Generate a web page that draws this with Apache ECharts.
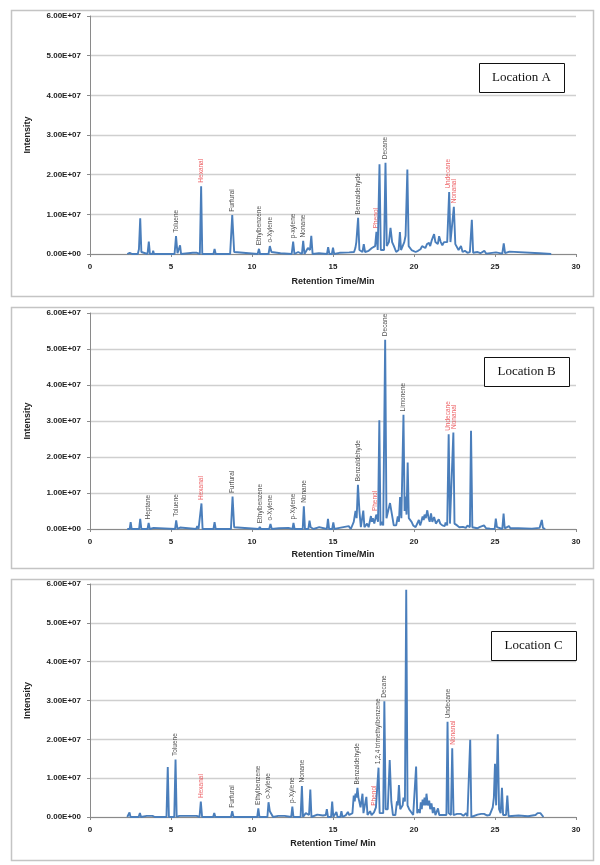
<!DOCTYPE html>
<html>
<head>
<meta charset="utf-8">
<script src="https://cdn.jsdelivr.net/npm/echarts@6/dist/echarts.min.js"></script>
<style>
html,body{margin:0;padding:0;background:#fff;}
#chart{width:600px;height:865px;}
</style>
</head>
<body>
<div id="chart"></div>
<script>
// Intensity values are in units of 1e7 counts; times in minutes.
const SCALE = 1e7;

const pointsA = [
[2.3,0],[2.45,0.03],[2.6,0],[2.95,0],[3.02,0.12],[3.1,0.9],[3.17,0.05],[3.55,0],[3.63,0.31],[3.7,0],
[3.85,0],[3.9,0.08],[3.95,0],[4.15,0],[4.2,0.05],[4.25,0],[5.22,0],[5.31,0.45],[5.4,0.02],[5.5,0],
[5.56,0.22],[5.62,0],[6.35,0.03],[6.6,0.03],[6.78,0],[6.86,1.71],[6.93,0],[7.62,0],[7.69,0.13],[7.76,0],
[8.65,0],[8.78,0.98],[8.9,0.05],[9.0,0],[10.35,0],[10.43,0.13],[10.5,0],[11.02,0],[11.1,0.2],[11.2,0.05],
[11.3,0],[11.76,0.02],[12.45,0],[12.54,0.31],[12.62,0],[12.85,0.05],[13.08,0],[13.16,0.33],[13.24,0],[13.45,0.15],
[13.58,0.1],[13.66,0.46],[13.74,0],[14.13,0.02],[14.63,0],[14.7,0.17],[14.78,0],[14.93,0],[15.0,0.16],[15.07,0],
[15.4,0.03],[16.0,0.04],[16.3,0.05],[16.38,0.15],[16.44,0.3],[16.55,0.91],[16.63,0.1],[16.82,0.05],[16.9,0.25],[16.98,0.05],
[17.2,0.08],[17.3,0.05],[17.4,0.15],[17.52,0.15],[17.6,0.2],[17.68,0.56],[17.76,0.1],[17.87,2.26],[17.95,0.1],[18.05,0.12],
[18.15,0.1],[18.24,2.3],[18.32,0.2],[18.45,0.3],[18.55,0.66],[18.65,0.3],[18.76,0.2],[18.9,0.05],[19.05,0.1],[19.13,0.55],
[19.2,0.1],[19.3,0.15],[19.4,0.3],[19.48,0.46],[19.59,2.13],[19.67,0.2],[19.75,0.2],[19.85,0.1],[19.95,0.08],[20.1,0.05],
[20.25,0.08],[20.4,0.12],[20.5,0.2],[20.6,0.22],[20.7,0.15],[20.8,0.25],[20.93,0.28],[21.0,0.2],[21.1,0.35],[21.18,0.3],
[21.24,0.5],[21.32,0.3],[21.4,0.35],[21.47,0.25],[21.55,0.45],[21.65,0.3],[21.75,0.22],[21.85,0.3],[21.95,0.25],[22.05,0.3],
[22.17,1.56],[22.25,0.3],[22.33,0.28],[22.46,1.19],[22.55,0.25],[22.65,0.2],[22.75,0.1],[22.9,0.2],[23.0,0.05],[23.14,0.08],
[23.3,0.03],[23.45,0.05],[23.57,0.86],[23.65,0.03],[23.93,0.05],[24.1,0.02],[24.34,0.08],[24.45,0.01],[25.06,0.04],[25.45,0.01],
[25.54,0.27],[25.62,0.02],[25.89,0.06],[26.0,0.01],[27.75,0.02],[27.85,0.02],[28.47,0]
];

const pointsB = [
[2.3,0],[2.45,0],[2.51,0.19],[2.57,0],[3.03,0],[3.1,0.28],[3.17,0],[3.55,0],[3.62,0.17],[3.69,0],
[3.93,0.03],[4.0,0],[5.25,0],[5.32,0.24],[5.4,0],[5.56,0.04],[6.55,0],[6.62,0.08],[6.7,0],[6.81,0],
[6.88,0.71],[6.95,0],[7.62,0],[7.69,0.19],[7.76,0],[8.7,0],[8.8,0.9],[8.9,0.05],[9.0,0],[10.42,0],
[10.48,0.06],[10.55,0],[11.06,0],[11.14,0.14],[11.22,0],[11.66,0.02],[12.25,0.03],[12.5,0],[12.56,0.17],[12.63,0],
[13.13,0],[13.2,0.63],[13.27,0],[13.48,0],[13.55,0.23],[13.62,0.05],[13.74,0.1],[13.8,0],[14.15,0.05],[14.62,0],
[14.69,0.28],[14.76,0],[14.95,0],[15.02,0.18],[15.09,0],[15.4,0.03],[15.97,0.08],[16.1,0],[16.28,0.2],[16.39,0.5],
[16.46,0.3],[16.54,1.23],[16.63,0.5],[16.72,0.05],[16.8,0.1],[16.87,0.51],[16.94,0.05],[17.1,0.15],[17.2,0.05],[17.34,0.36],
[17.4,0.2],[17.46,0.3],[17.55,0.15],[17.67,0.4],[17.78,0.2],[17.86,3.02],[17.93,0.1],[18.0,0.2],[18.1,0.1],[18.22,5.26],
[18.3,0.3],[18.42,0.3],[18.52,0.72],[18.64,0.4],[18.75,0.1],[18.9,0.1],[19.0,0.35],[19.07,0.2],[19.14,0.89],[19.22,0.3],
[19.35,3.17],[19.42,0.5],[19.47,0.9],[19.54,0.4],[19.61,1.85],[19.68,0.3],[19.75,0.25],[19.85,0.2],[19.95,0.1],[20.1,0.05],
[20.2,0.1],[20.3,0.25],[20.38,0.1],[20.45,0.2],[20.53,0.35],[20.6,0.25],[20.65,0.4],[20.73,0.3],[20.82,0.52],[20.9,0.3],
[20.97,0.2],[21.05,0.43],[21.13,0.2],[21.24,0.33],[21.35,0.15],[21.45,0.1],[21.53,0.27],[21.62,0.15],[21.75,0.1],[21.84,0.15],
[21.9,0.08],[21.95,0.18],[22.05,0.1],[22.14,2.63],[22.22,0.15],[22.3,0.1],[22.43,2.68],[22.5,0.15],[22.66,0.1],[22.8,0.05],
[23.02,0.06],[23.2,0.03],[23.3,0.1],[23.45,0.05],[23.52,2.73],[23.6,0.05],[23.9,0.02],[24.08,0.06],[24.2,0.05],[24.32,0.1],
[24.45,0.02],[24.7,0.01],[24.98,0],[25.05,0.29],[25.12,0.05],[25.22,0.05],[25.45,0],[25.53,0.43],[25.6,0.02],[25.86,0.08],
[25.95,0.02],[26.45,0.02],[27.28,0.01],[27.75,0.03],[27.82,0.05],[27.89,0.25],[27.96,0.03],[28.1,0]
];

const pointsC = [
[2.3,0],[2.38,0],[2.44,0.12],[2.5,0],[3.0,0],[3.08,0.1],[3.15,0],[3.5,0.03],[3.86,0.03],[4.0,0],
[4.72,0],[4.8,1.29],[4.87,0],[5.2,0],[5.28,1.48],[5.35,0],[5.51,0.03],[6.58,0.03],[6.76,0],[6.84,0.4],
[6.92,0],[7.6,0],[7.67,0.1],[7.74,0],[8.7,0],[8.78,0.15],[8.86,0],[10.32,0],[10.39,0.22],[10.46,0],
[10.95,0],[11.02,0.38],[11.1,0.15],[11.2,0.1],[11.3,0],[11.62,0.03],[12.02,0.03],[12.42,0],[12.49,0.27],[12.56,0],
[13.0,0],[13.08,0.8],[13.15,0],[13.32,0.1],[13.52,0.05],[13.6,0.71],[13.67,0],[14.03,0.06],[14.38,0.04],[14.55,0.05],
[14.62,0.2],[14.69,0],[14.88,0],[14.95,0.4],[15.02,0],[15.14,0],[15.21,0.13],[15.28,0],[15.45,0],[15.52,0.15],
[15.59,0],[15.8,0.05],[15.92,0.13],[16.0,0.05],[16.2,0.1],[16.28,0.55],[16.34,0.4],[16.39,0.6],[16.45,0.5],[16.51,0.75],
[16.57,0.5],[16.63,0.5],[16.7,0.25],[16.76,0.3],[16.82,0.6],[16.88,0.1],[16.98,0.1],[17.06,0.52],[17.13,0.05],[17.29,0.15],
[17.38,0.05],[17.53,0.12],[17.6,0.1],[17.65,0.25],[17.73,0.2],[17.81,1.27],[17.88,0.1],[18.0,0.05],[18.1,0.1],[18.17,2.98],
[18.25,0.2],[18.38,0.2],[18.5,1.47],[18.6,0.4],[18.7,0.05],[18.85,0.05],[18.95,0.4],[19.0,0.3],[19.07,0.82],[19.15,0.2],
[19.23,0.25],[19.3,0.3],[19.35,0.5],[19.44,0.4],[19.52,5.85],[19.6,0.3],[19.7,0.2],[19.8,0.15],[19.95,0.05],[20.06,0.05],
[20.13,1.3],[20.2,0.1],[20.3,0.2],[20.36,0.1],[20.42,0.38],[20.48,0.2],[20.53,0.45],[20.6,0.3],[20.65,0.5],[20.72,0.3],
[20.77,0.6],[20.85,0.3],[20.94,0.42],[21.0,0.2],[21.08,0.35],[21.16,0.1],[21.24,0.25],[21.32,0.05],[21.48,0.22],[21.56,0.05],
[21.8,0.05],[22.0,0.05],[22.07,2.45],[22.14,0.1],[22.28,0.05],[22.36,1.77],[22.44,0.05],[22.66,0.08],[22.9,0.08],[23.05,0.03],
[23.21,0.1],[23.3,0.02],[23.4,0],[23.47,1.99],[23.54,0],[23.92,0.06],[24.15,0.08],[24.32,0.08],[24.5,0.04],[24.67,0.05],
[24.86,0.25],[24.93,0.5],[25.0,1.37],[25.07,0.3],[25.17,2.13],[25.25,0.2],[25.35,0.1],[25.43,0.75],[25.5,0.05],[25.68,0.05],
[25.76,0.55],[25.84,0.02],[26.45,0.04],[27.04,0.02],[27.5,0.05],[27.63,0.1],[27.72,0.05],[27.8,0.1],[27.9,0.05],[27.99,0]
];

// Peak labels: compound names, retention times and the peak intensity they mark (1e7 units)
const namesA = ['Toluene','Hexanal','Furfural','Ethylbenzene','o-Xylene','p-xylene','Nonane','Benzaldehyde','Phenol','Decane','Undecane','Nonanal'];
const timesA = [5.31,6.86,8.78,10.43,11.1,12.54,13.16,16.55,17.64,18.24,22.14,22.48];
const peaksA = [0.45,1.71,0.98,0.13,0.2,0.31,0.33,0.91,0.56,2.3,1.56,1.19];

const namesB = ['Heptane','Toluene','Hexanal','Furfural','Ethylbenzene','o-Xylene','p-Xylene','Nonane','Benzaldehyde','Phenol','Decane','Limonene','Undecane','Nonanal'];
const timesB = [3.62,5.32,6.88,8.8,10.48,11.14,12.56,13.2,16.54,17.62,18.22,19.35,22.14,22.46];
const peaksB = [0.17,0.24,0.71,0.9,0.06,0.14,0.17,0.63,1.23,0.4,5.26,3.17,2.63,2.68];

const namesC = ['Toluene','Hexanal','Furfural','Ethylbenzene','o-Xylene','p-Xylene','Nonane','Benzaldehyde','Phenol','1,2,4 trimethylbenzene','Decane','Undecane','Nonanal'];
const timesC = [5.28,6.84,8.78,10.39,11.02,12.49,13.08,16.51,17.55,17.81,18.17,22.12,22.45];
const peaksC = [1.48,0.4,0.15,0.22,0.38,0.27,0.8,0.75,0.2,1.27,2.98,2.45,1.77];

// Compounds printed in red in each panel
const redA = ['Hexanal','Phenol','Undecane','Nonanal'];
const redB = ['Hexanal','Phenol','Undecane','Nonanal'];
const redC = ['Hexanal','Phenol','Nonanal'];

const panelTitles = ['Location A','Location B','Location C'];
const xTitles = ['Retention Time/Min','Retention Time/Min','Retention Time/ Min'];
const yTitle = 'Intensity';
const xTicks = {min:0, max:30, interval:5};
const yTicks = {min:0, max:6e7, interval:1e7};

const FONT = '"Liberation Sans", Arial, sans-serif';
const LINE = '#4a7ebb';
const RED = '#e8383d';
const DARK = '#222222';

function sci(v){
  if (v === 0) return '0.00E+00';
  const e = Math.floor(Math.log10(v) + 1e-9);
  const m = v / Math.pow(10, e);
  return m.toFixed(2) + 'E+' + String(e).padStart(2, '0');
}

const grids = [
  {left:90, width:486, top:16, height:238},
  {left:90, width:486, top:313, height:216},
  {left:90, width:486, top:584, height:233}
];
const nameGaps = [23.5, 21.5, 22.5];

const chart = echarts.init(document.getElementById('chart'), null, {renderer:'canvas'});

const xAxes = grids.map((g, i) => ({
  type:'value', gridIndex:i, min:xTicks.min, max:xTicks.max, interval:xTicks.interval,
  name:xTitles[i], nameLocation:'middle', nameGap:nameGaps[i],
  nameTextStyle:{fontFamily:FONT, fontSize:9, fontWeight:'bold', color:DARK},
  axisLine:{show:true, onZero:false, lineStyle:{color:'#8a8a8a', width:1}},
  axisTick:{show:true, length:3, lineStyle:{color:'#8a8a8a'}},
  axisLabel:{fontFamily:FONT, fontSize:8, fontWeight:'bold', color:DARK, margin:9},
  splitLine:{show:false}
}));
const yAxes = grids.map((g, i) => ({
  type:'value', gridIndex:i, min:yTicks.min, max:yTicks.max, interval:yTicks.interval,
  name:yTitle, nameLocation:'middle', nameGap:58,
  nameTextStyle:{fontFamily:FONT, fontSize:9, fontWeight:'bold', color:DARK},
  axisLine:{show:true, lineStyle:{color:'#8a8a8a', width:1}},
  axisTick:{show:true, length:3, lineStyle:{color:'#8a8a8a'}},
  axisLabel:{fontFamily:FONT, fontSize:8, fontWeight:'bold', color:DARK, margin:9, formatter:sci},
  splitLine:{show:true, lineStyle:{color:'#cfcfcf', width:1.3}}
}));

const traces = [pointsA, pointsB, pointsC];
const labelSets = [
  [namesA, timesA, peaksA, redA],
  [namesB, timesB, peaksB, redB],
  [namesC, timesC, peaksC, redC]
];

const series = [];
traces.forEach((pts, i) => {
  series.push({
    type:'line', xAxisIndex:i, yAxisIndex:i, showSymbol:false, symbol:'none',
    lineStyle:{color:LINE, width:1.9}, animation:false, silent:true,
    data: pts.map(p => [p[0], p[1] * SCALE])
  });
});
labelSets.forEach((set, i) => {
  const [names, times, peaks, reds] = set;
  series.push({
    type:'scatter', xAxisIndex:i, yAxisIndex:i, symbolSize:1, animation:false, silent:true,
    itemStyle:{color:'rgba(0,0,0,0)'},
    label:{show:true, position:'top', distance:3, rotate:90, align:'left', verticalAlign:'middle',
      fontFamily:FONT, fontSize:6.5, formatter:p => p.name},
    data: names.map((n, k) => ({
      name:n, value:[times[k], peaks[k] * SCALE],
      label:{color: reds.includes(n) ? RED : DARK}
    }))
  });
});

const panels = [
  {y:8, h:286, box:[479,63]},
  {y:305, h:261, box:[484,357]},
  {y:577, h:281, box:[491,631]}
];
const graphic = [];
panels.forEach((p, i) => {
  graphic.push({type:'rect', left:9, top:p.y, shape:{width:582, height:p.h},
    style:{fill:'none', stroke:'#c4c4c4', lineWidth:1.5}, silent:true, z:-1});
  graphic.push({type:'rect', left:p.box[0], top:p.box[1], shape:{width:85, height:29},
    style:{fill:'#fff', stroke:'#111', lineWidth:1}, silent:true, z:10});
  graphic.push({type:'text', x:p.box[0] + 42.5, y:p.box[1] + 15,
    style:{text:panelTitles[i], fill:'#111', font:'13px "Liberation Serif", "Times New Roman", serif',
      textAlign:'center', textVerticalAlign:'middle'}, silent:true, z:11});
});

chart.setOption({
  animation:false,
  backgroundColor:'#ffffff',
  grid:grids,
  xAxis:xAxes,
  yAxis:yAxes,
  series:series,
  graphic:graphic
});
</script>
</body>
</html>
